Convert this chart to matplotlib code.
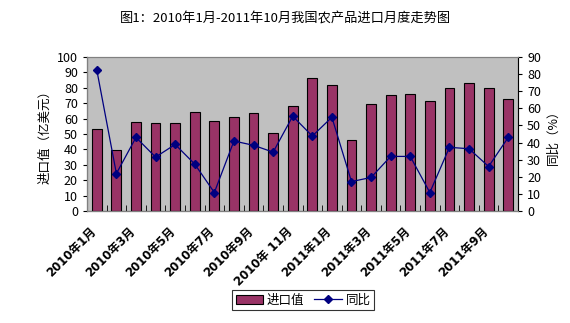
import numpy as np
import matplotlib
matplotlib.use('Agg')
import matplotlib.pyplot as plt

plt.rcParams['font.family'] = ['Noto Sans CJK SC', 'DejaVu Sans']

# data
months = ['2010年1月', '2010年2月', '2010年3月', '2010年4月', '2010年5月', '2010年6月',
          '2010年7月', '2010年8月', '2010年9月', '2010年10月', '2010年 11月', '2010年12月',
          '2011年1月', '2011年2月', '2011年3月', '2011年4月', '2011年5月', '2011年6月',
          '2011年7月', '2011年8月', '2011年9月', '2011年10月']
import_value = [53, 39.5, 57.8, 57.2, 57, 64.3, 58.5, 61, 63.7, 50.7, 68,
                86.5, 82, 46, 69.6, 75.4, 76, 71.5, 79.8, 83.3, 79.8, 72.8]
yoy = [82.4, 21.9, 43, 31.5, 38.9, 27.4, 10.8, 40.9, 38.4, 34.4, 55.4,
       43.8, 54.8, 17.2, 19.6, 31.9, 31.9, 10.8, 37.2, 36.4, 26, 43]

x = np.arange(len(months))

fig = plt.figure(figsize=(5.7, 3.23), dpi=100)
ax = fig.add_axes([87/570, 1 - 211/323, 431/570, 154/323])
ax.set_facecolor('#C0C0C0')
ax.bar(x, import_value, width=0.5, color='#993366', edgecolor='black', linewidth=0.8,
       label='进口值', zorder=2)
ax.set_xlim(-0.5, len(months) - 0.5)
ax.set_ylim(0, 100)
ax.set_yticks(range(0, 101, 10))
# label anchors sit a bit left of the bar centres, as in the original
ax.set_xticks(x[::2] - 0.35)
ax.set_xticklabels(months[::2], rotation=45, ha='right', va='top',
                   rotation_mode='anchor', fontsize=8.5, fontweight='bold',
                   family=['DejaVu Sans', 'Noto Sans CJK SC'])
ax.set_xticks(np.arange(-0.5, len(months), 1), minor=True)
ax.tick_params(axis='x', which='major', length=0, pad=10)
ax.tick_params(axis='x', which='minor', length=4, direction='in')
ax.tick_params(axis='y', labelsize=9, length=3, direction='out')
ax.set_ylabel('进口值（亿美元）', fontsize=9)

ax2 = ax.twinx()
ax2.plot(x, yoy, color='#000080', marker='D', markersize=4, linewidth=0.9,
         label='同比', zorder=3)
ax2.set_ylim(0, 90)
ax2.set_yticks(range(0, 91, 10))
ax2.tick_params(axis='y', labelsize=9, length=3, direction='out')
ax2.set_ylabel('同比（%）', fontsize=9, rotation=90)

for a in (ax, ax2):
    for s in a.spines.values():
        s.set_color('#808080')
ax.spines['bottom'].set_color('black')
ax.spines['left'].set_color('black')
ax2.spines['right'].set_color('black')

fig.suptitle('图1：2010年1月-2011年10月我国农产品进口月度走势图', fontsize=9.5, y=0.96)

h1, l1 = ax.get_legend_handles_labels()
h2, l2 = ax2.get_legend_handles_labels()
leg = fig.legend(h1 + h2, l1 + l2, loc='center', bbox_to_anchor=(0.532, 1 - 300/323),
                 ncol=2, fontsize=9, frameon=True, fancybox=False, edgecolor='black',
                 handlelength=2.2, columnspacing=0.8, handletextpad=0.3,
                 borderpad=0.3)
leg.get_frame().set_linewidth(0.8)

fig.savefig('out.png', dpi=100)
